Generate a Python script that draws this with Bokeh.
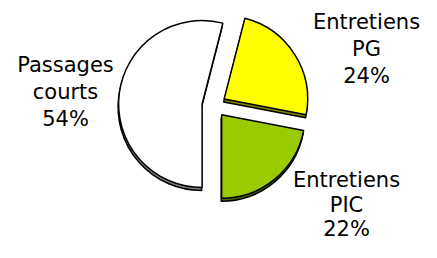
import numpy as np
from bokeh.plotting import figure
from bokeh.models import Range1d, ColumnDataSource
from bokeh.embed import file_html
from bokeh.resources import INLINE
from bokeh.core.properties import value

# ---- data ----
categories = ["Entretiens PG", "Entretiens PIC", "Passages courts"]
label_words = [["Entretiens", "PG"], ["Entretiens", "PIC"], ["Passages", "courts"]]
shares = [24, 22, 54]

# ---- styles / layout ----
colors = ["#FFFF00", "#99CC00", "#FFFFFF"]
shadow_colors = ["#808000", "#4D6600", "#808080"]
first_angle = 14.4          # degrees, clockwise from 12 o'clock
W, H = 421, 242
cx, cy_px = 213.5, 105.0
radius = 83.5
explode = 12.0
shadow_dx, shadow_dy = -0.5, -3.0
label_pos = [(366, 28.7, 27), (346, 187.0, 24.5), (65, 71.7, 27)]   # centre x, first baseline, line gap (px)
baseline_fix = 7.5   # renderer draws text this much lower than the anchor
font = "DejaVu Sans"
font_size = "21px"

def ydata(y_px):
    return H - y_px

p = figure(width=W, height=H, x_range=Range1d(0, W), y_range=Range1d(0, H),
           x_axis_type=None, y_axis_type=None, toolbar_location=None,
           output_backend="svg", min_border=0, outline_line_color=None,
           background_fill_color="white", border_fill_color="white")
p.grid.visible = False

total = float(sum(shares))
cum = np.cumsum([0] + shares) / total * 360.0 + first_angle
th1 = cum[:-1]
th2 = cum[1:]
mid = (th1 + th2) / 2.0
cy = ydata(cy_px)
xs = cx + explode * np.sin(np.radians(mid))
ys = cy + explode * np.cos(np.radians(mid))
start = np.radians(90.0 - th2)
end = np.radians(90.0 - th1)

shadow = ColumnDataSource(dict(x=xs + shadow_dx, y=ys + shadow_dy, s=start, e=end, c=shadow_colors))
main = ColumnDataSource(dict(x=xs, y=ys, s=start, e=end, c=colors))

p.wedge(x="x", y="y", radius=radius, start_angle="s", end_angle="e", source=shadow,
        fill_color="c", line_color="black", line_width=1.5)
p.wedge(x="x", y="y", radius=radius, start_angle="s", end_angle="e", source=main,
        fill_color="c", line_color="black", line_width=1.5)

tx, ty, tt = [], [], []
for i, words in enumerate(label_words):
    lines = words + [f"{shares[i]}%"]
    x0, y0, gap = label_pos[i]
    for j, t in enumerate(lines):
        tx.append(x0)
        ty.append(ydata(y0 + j * gap - baseline_fix))
        tt.append(t)

p.text(x=tx, y=ty, text=tt, text_align="center", text_baseline="alphabetic",
       text_font=value(font), text_font_size=font_size, text_color="black")

open("out.html", "w").write(file_html(p, INLINE))
